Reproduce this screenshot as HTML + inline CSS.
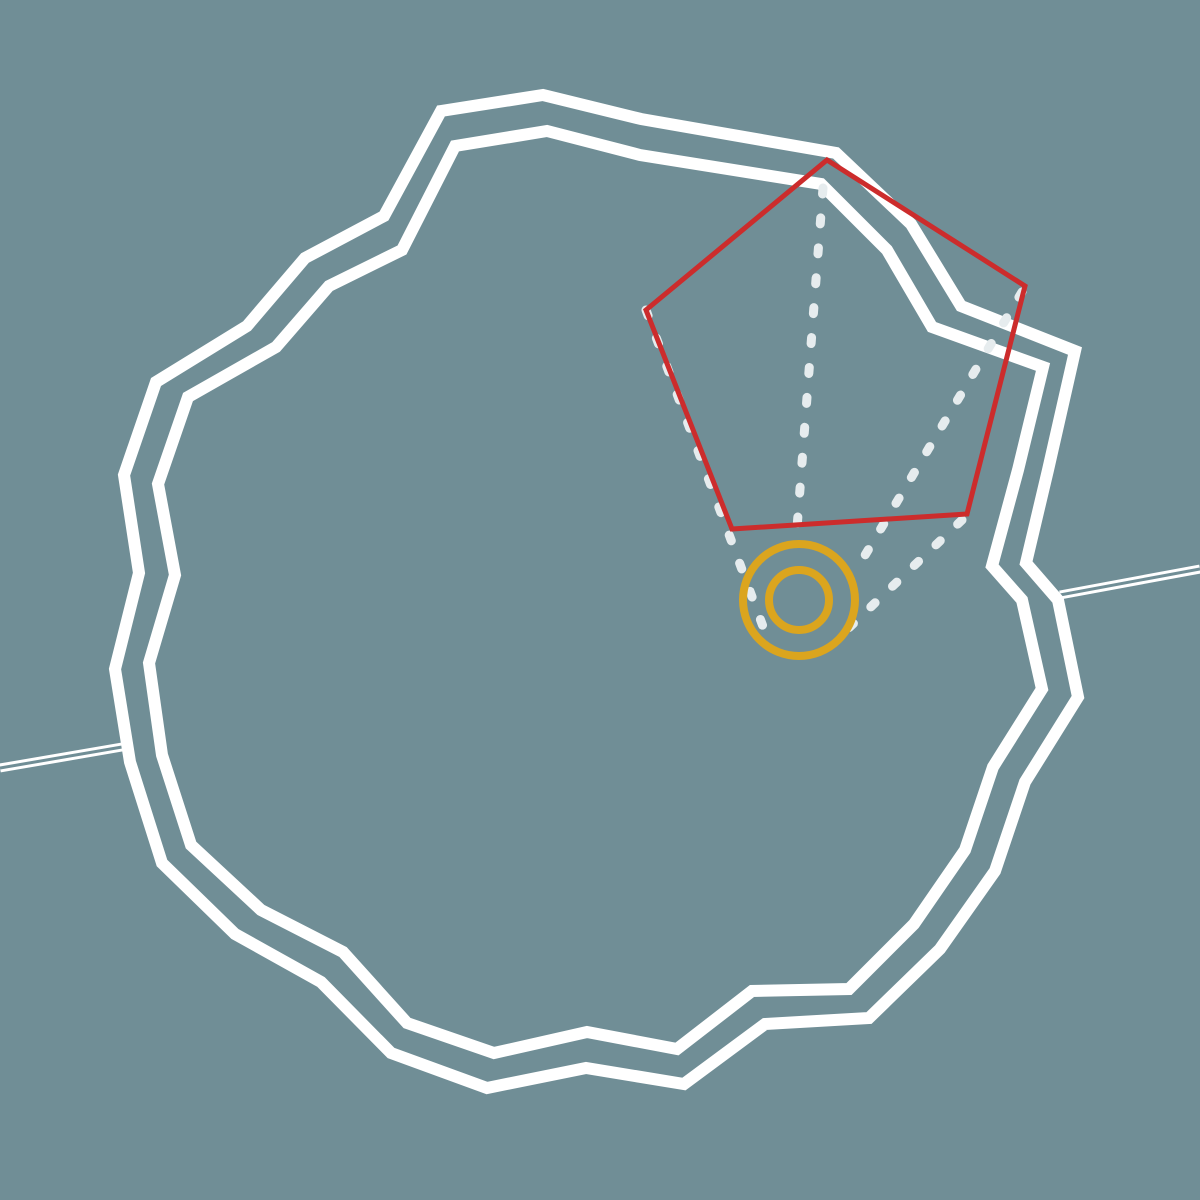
<!DOCTYPE html>
<html><head><meta charset="utf-8"><style>html,body{margin:0;padding:0;background:#708e96}svg{display:block}</style></head>
<body>
<svg id="c" width="1200" height="1200" viewBox="0 0 1200 1200">
<rect width="1200" height="1200" fill="#708e96"/>
</svg>
<script>
const outerRing=[[441,111],[543,95],[641,119],[836,153],[911,224],[961,306],[1075,351],[1048,470],[1026,563],[1058,600],[1078,697],[1025,782],[995,871],[940,949],[869,1018],[765,1024],[684,1084],[586,1068],[487,1088],[391,1053],[321,982],[235,934],[162,863],[130,762],[115,669],[139,573],[124,475],[156,382],[247,326],[305,258],[384,216]];
const innerRing=[[455,146],[547,131],[640,155],[821,184],[887,250],[932,327],[1043,367],[1018,470],[992,566],[1022,600],[1042,689],[993,767],[965,850],[914,924],[849,989],[752,991],[677,1049],[587,1032],[494,1053],[407,1023],[343,952],[261,910],[191,845],[162,755],[149,663],[175,575],[158,484],[188,397],[276,347],[329,286],[402,250]];
const pentagon=[[827,160],[1025,286],[967,514],[732,529],[646,310]];
const dottedLines=[[[646,310],[768,640]],[[823,188],[797,528]],[[1022,292],[855,572]],[[962,520],[834,642]]];
const sideLines=[[[0,768],[122,747]],[[1060,595],[1200,569]]];
const circleCenter=[799,600];
const circleRadii=[56,30];
const NS='http://www.w3.org/2000/svg';
const svg=document.getElementById('c');
function mk(tag,attrs){const e=document.createElementNS(NS,tag);for(const k in attrs)e.setAttribute(k,attrs[k]);svg.appendChild(e);return e;}
const pts=a=>a.map(p=>p.join(',')).join(' ');
sideLines.forEach(l=>{
  const e=mk('line',{x1:l[0][0],y1:l[0][1],x2:l[1][0],y2:l[1][1],stroke:'#fff','stroke-width':9});
  
  
  const e2=mk('line',{x1:l[0][0],y1:l[0][1],x2:l[1][0],y2:l[1][1],stroke:'#708e96','stroke-width':3});
  
  
});
const o=mk('polygon',{points:pts(outerRing),fill:'none',stroke:'#fff','stroke-width':12,'stroke-linejoin':'miter'});


const i=mk('polygon',{points:pts(innerRing),fill:'none',stroke:'#fff','stroke-width':12,'stroke-linejoin':'miter'});


dottedLines.forEach(l=>{
  const e=mk('line',{x1:l[0][0],y1:l[0][1],x2:l[1][0],y2:l[1][1],stroke:'#e6ecee','stroke-width':9,'stroke-linecap':'round','stroke-dasharray':'6 24'});
  
  
});
const p=mk('polygon',{points:pts(pentagon),fill:'none',stroke:'#cc2c2c','stroke-width':5});


circleRadii.forEach(r=>{
  const e=mk('circle',{cx:circleCenter[0],cy:circleCenter[1],r:r,fill:'none',stroke:'#dba51e','stroke-width':8});
  
  
});
</script>
</body></html>
